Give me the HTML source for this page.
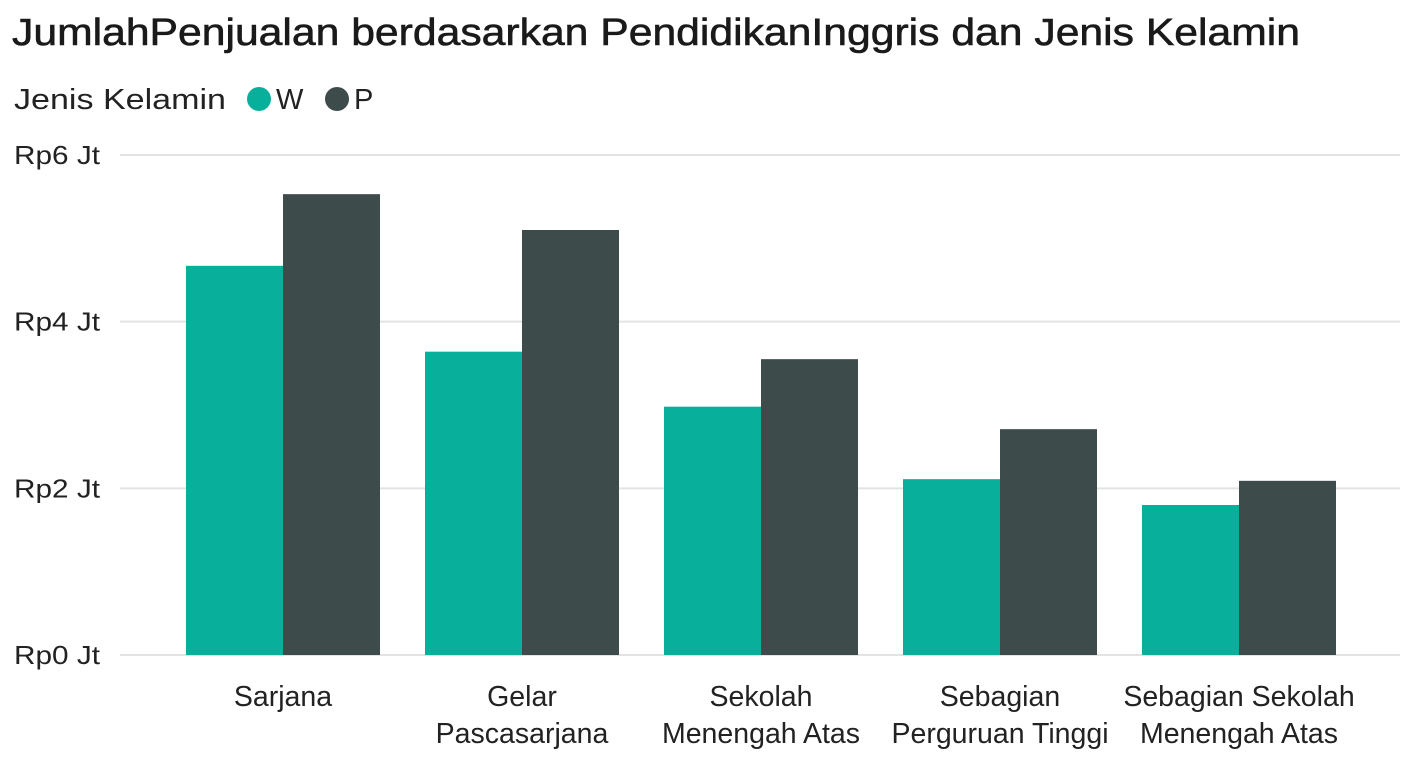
<!DOCTYPE html>
<html><head><meta charset="utf-8">
<style>
html,body{margin:0;padding:0;background:#fff;}
body{width:1408px;height:768px;overflow:hidden;font-family:"Liberation Sans",sans-serif;}
svg{display:block;}
</style></head>
<body>
<svg id="chart" width="1408" height="768">
  <text x="12" y="45" font-size="38" fill="#1a1a1a" stroke="#1a1a1a" stroke-width="0.6" textLength="1288" lengthAdjust="spacingAndGlyphs">JumlahPenjualan berdasarkan PendidikanInggris dan Jenis Kelamin</text>
  <g>
    <text x="14" y="109" font-size="29" fill="#222" textLength="212" lengthAdjust="spacingAndGlyphs">Jenis Kelamin</text>
    <circle cx="259" cy="99" r="12" fill="#08b09c"/>
    <text x="276" y="109" font-size="29" fill="#222">W</text>
    <circle cx="337" cy="99" r="12" fill="#3d4b4b"/>
    <text x="354" y="109" font-size="29" fill="#222">P</text>
  </g>
  <g id="grid"></g>
  <g id="bars"></g>
  <g id="xlabels"></g>
</svg>
<script>
const categories = [["Sarjana"],["Gelar","Pascasarjana"],["Sekolah","Menengah Atas"],["Sebagian","Perguruan Tinggi"],["Sebagian Sekolah","Menengah Atas"]];
const valuesW = [4.67,3.64,2.98,2.11,1.80];
const valuesP = [5.53,5.10,3.55,2.71,2.09];
const tickValues = [0,2,4,6];
const tickLabels = ["Rp0 Jt","Rp2 Jt","Rp4 Jt","Rp6 Jt"];

const NS="http://www.w3.org/2000/svg";
const y0=655, y1=155, yMax=6;
const yScale=v=>y0-(v/yMax)*(y0-y1);
const bandStart=163.5, band=239, barW=97;
const xCenter=i=>bandStart+band*i+band/2;
function mk(tag,attrs,parent){const e=document.createElementNS(NS,tag);for(const k in attrs)e.setAttribute(k,attrs[k]);parent.appendChild(e);return e;}
const grid=document.getElementById('grid'),bars=document.getElementById('bars'),xl=document.getElementById('xlabels');
tickValues.forEach((t,i)=>{
  const y=yScale(t);
  const l=mk('line',{x1:120,x2:1400,y1:y,y2:y,stroke:'#e3e3e3','stroke-width':2},grid);
  
  
  const tx=mk('text',{x:14,y:y+9,'font-size':26,fill:'#222',textLength:86,lengthAdjust:'spacingAndGlyphs'},grid);
  tx.textContent=tickLabels[i];
  
  
});
categories.forEach((c,i)=>{
  const cx=xCenter(i);
  const rw=mk('rect',{x:cx-barW,y:yScale(valuesW[i]),width:barW,height:y0-yScale(valuesW[i]),fill:'#08b09c'},bars);
  
  
  const rp=mk('rect',{x:cx,y:yScale(valuesP[i]),width:barW,height:y0-yScale(valuesP[i]),fill:'#3d4b4b'},bars);
  
  
  c.forEach((line,j)=>{
    const t=mk('text',{x:cx,y:706+j*37,'font-size':28.5,fill:'#222','text-anchor':'middle'},xl);
    t.textContent=line;
    
    
  });
});
</script>
</body></html>
